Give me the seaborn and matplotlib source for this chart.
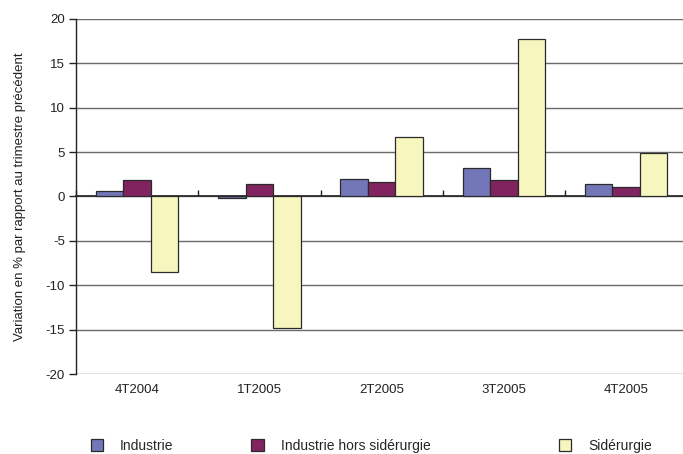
import matplotlib
matplotlib.use("Agg")
import matplotlib.pyplot as plt
import seaborn as sns
import pandas as pd

# Quarterly change, % vs previous quarter
quarters = ["4T2004", "1T2005", "2T2005", "3T2005", "4T2005"]
industrie = [0.6, -0.2, 2.0, 3.25, 1.4]
hors_siderurgie = [1.85, 1.45, 1.6, 1.85, 1.05]
siderurgie = [-8.5, -14.8, 6.7, 17.8, 4.85]

series_names = ["Industrie", "Industrie hors sidérurgie", "Sidérurgie"]
series_colors = ["#7376B8", "#80235F", "#F6F6BE"]

df = pd.DataFrame({
    "trimestre": quarters * 3,
    "serie": [series_names[0]] * 5 + [series_names[1]] * 5 + [series_names[2]] * 5,
    "valeur": industrie + hors_siderurgie + siderurgie,
})

sns.set_theme(style="white")
plt.rcParams["font.family"] = ["Liberation Sans", "DejaVu Sans"]
plt.rcParams["axes.unicode_minus"] = False

fig = plt.figure(figsize=(6.83, 4.54), dpi=100)
ax = fig.add_axes([0.1113, 0.1762, 0.895, 0.782])

sns.barplot(data=df, x="trimestre", y="valeur", hue="serie", order=quarters,
            hue_order=series_names, palette=series_colors, width=0.675,
            edgecolor="#2a2a2a", linewidth=0.9, saturation=1, ax=ax, legend=True)

ax.set_ylim(-20, 20)
ax.set_xlim(-0.5, len(quarters) - 0.5)
ax.set_yticks(range(-20, 21, 5))
for v in range(-20, 21, 5):
    ax.axhline(v, color="#6a6a6a" if v != 0 else "#808080", lw=1.0, zorder=0)

for s in ["top", "right", "bottom"]:
    ax.spines[s].set_visible(False)
ax.spines["left"].set_color("#222222")
ax.spines["left"].set_linewidth(1.0)

ax.tick_params(axis="y", direction="out", length=5, width=1, color="#222222",
               labelsize=9.5, labelcolor="#222222", pad=3, left=True)
ax.set_xticks(range(len(quarters)))
ax.set_xticklabels(quarters)
ax.tick_params(axis="x", length=0, labelsize=9.5, labelcolor="#222222", pad=7)
ax.set_xlabel("")
ax.set_ylabel("Variation en % par rapport au trimestre précédent", fontsize=9.5,
              color="#222222", labelpad=14)

# category separators on the zero line
sec = ax.secondary_xaxis(0.5)
sec.set_xticks([i - 0.5 for i in range(len(quarters) + 1)])
sec.set_xticklabels([])
sec.tick_params(axis="x", direction="out", length=4, width=1, color="#222222")
sec.spines["bottom"].set_visible(False)

handles, labels = ax.get_legend_handles_labels()
ax.get_legend().remove()
legend_x = [0.125, 0.36, 0.81]
for h, lab, lx in zip(handles, labels, legend_x):
    fig.legend([h], [lab], loc="center left", bbox_to_anchor=(lx, 0.018),
               frameon=False, fontsize=10, handlelength=0.9, handleheight=0.9,
               handletextpad=1.2, borderaxespad=0)

fig.savefig("out.png", dpi=100, facecolor="white")
